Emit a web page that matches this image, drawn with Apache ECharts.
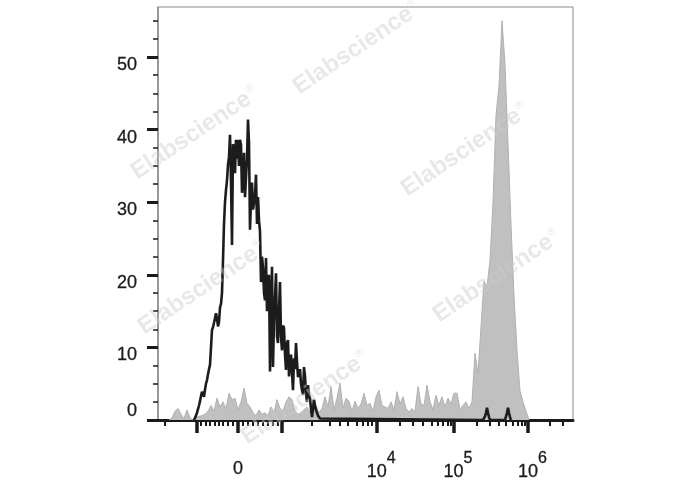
<!DOCTYPE html>
<html><head><meta charset="utf-8">
<script src="https://cdn.jsdelivr.net/npm/echarts@6/dist/echarts.min.js"></script>
<style>html,body{margin:0;padding:0;background:#fff}#c{width:688px;height:490px}</style>
</head><body><div id="c"></div>
<script>
// Display channel scale of the biexponential axis (0..415)
const blackStart = 36, blackBin = 1;
const blackCounts = [0,0,0.6,1.0,1.5,2.0,2.6,3.3,3.9,3.9,3.2,4.2,5.0,5.5,6.3,7.0,7.6,10.0,12.4,12.8,13.4,13.4,14.7,14.0,12.9,13.5,15.5,16.0,17.5,22.0,27.0,30.0,31.7,33.0,35.2,36.2,39.3,33.0,24.1,38.0,37.5,34.0,38.6,36.0,38.6,35.0,38.6,37.9,31.3,33.0,36.8,30.7,33.4,36.0,41.4,38.2,26.2,30.3,32.7,29.0,29.9,31.0,33.8,27.0,30.7,27.5,26.0,19.0,22.5,21.0,17.5,16.5,22.3,15.0,19.0,20.0,6.7,14.0,21.1,7.3,13.8,17.0,20.2,11.5,10.6,15.0,19.0,11.5,9.6,13.0,12.7,9.0,6.9,10.6,11.0,6.0,8.3,9.0,6.4,4.1,8.5,7.0,10.6,8.0,5.9,6.5,7.0,5.0,4.1,3.5,7.3,6.0,3.7,2.5,4.8,3.5,3.0,1.5,0.4,1.5,2.8,2.0,1.4,1.0,0.6,0.4,0.2,0.1,0];
const blackTailStart = 325;
const blackTailCounts = [0,0,0.5,1.0,1.7,1.0,0.4,0,0,0,0,0,0,0,0,0,0,0,0,0,0,0,0,0.5,1.0,1.7,1.0,0.4,0];
const grayStart = 11, grayBin = 3;
const grayCounts = [0,0.3,1.2,1.6,0.8,0.2,1.4,0.3,0,0.3,0.5,0.6,0.8,1.2,2.0,1.2,3.0,1.8,2.5,1.5,3.7,2.8,3.0,1.4,2.5,4.4,2.3,1.8,1.0,0.6,1.4,0.8,1.0,0.6,1.8,1.0,2.8,1.6,1.2,2.5,3.2,2.8,1.2,0.8,1.0,1.4,1.8,1.0,2.8,2.0,1.0,1.6,3.2,1.8,4.6,1.4,3.0,5.1,1.6,3.0,2.6,1.2,2.6,1.6,2.2,3.7,2.0,2.3,1.2,3.2,4.1,2.0,1.8,1.6,2.5,1.4,3.9,2.2,3.2,1.6,1.1,1.6,1.1,4.6,2.2,2.0,4.8,2.5,1.4,3.4,2.0,3.2,1.8,3.0,2.2,3.7,3.7,1.4,2.0,2.5,1.6,2.5,9.2,6.4,12.9,19.1,18.4,22,30,42,46,55,49,38,27,17,9.6,4,2.5,1.2,0];
const yMajor = [0,10,20,30,40,50];
const yMinor = [2.5,5,7.5,12.5,15,17.5,22.5,25,27.5,32.5,35,37.5,42.5,45,47.5,52.5,55];
const xMajorTicks = [38.7,80,123.7,218.7,295.5,370];
const xMinorTicks = [7,43,47.5,52,56.3,60.5,65,70,75,85,90,95,100,105,110,115,119.5,153.7,172,182,190,198.7,205,210,214,242,255,265,273.7,280,285,290,292.5,318.7,332,340.4,348,354.5,359.5,363.5,366.8,392,404.7];
const xLabelPos = [80,218.7,295.5,370];
const xLabelBase = ['0','10','10','10'];
const xLabelExp = ['','4','5','6'];
const watermarks = [[195,133],[357,48],[465,150],[202,288],[497,276],[305,398]];

const FF = 'Liberation Sans, Arial, sans-serif';
const blackData = blackCounts.map((v,i)=>[blackStart+i*blackBin, v])
  .concat(blackTailCounts.map((v,i)=>[blackTailStart+i*blackBin, v]));
const grayData = grayCounts.map((v,i)=>[grayStart+i*grayBin, v]);

const chart = echarts.init(document.getElementById('c'), null, {renderer:'canvas'});
chart.setOption({
  animation:false,
  backgroundColor:'#fff',
  grid:{left:158,right:115,top:7,bottom:70,show:true,borderColor:'#8a8a8a',borderWidth:1},
  xAxis:[{
    type:'value',min:0,max:415,position:'bottom',
    axisLine:{show:true,onZero:false,lineStyle:{color:'#1a1a1a',width:3}},
    axisTick:{show:true,customValues:xMajorTicks,length:13,lineStyle:{color:'#1a1a1a',width:3.5}},
    axisLabel:{customValues:xLabelPos,margin:31,color:'#222',
      formatter:function(v){
        const i = xLabelPos.findIndex(p=>Math.abs(p-v)<0.01);
        if(i<0) return '';
        if(!xLabelExp[i]) return '{c|'+xLabelBase[i]+'}';
        return '{p| }{b|'+xLabelBase[i]+'}{s|'+xLabelExp[i]+'}';
      },
      rich:{
        b:{fontFamily:FF,fontSize:18,color:'#1a1a1a',lineHeight:20,padding:[11,0,0,0],textBorderColor:'#1a1a1a',textBorderWidth:0.3},
        c:{fontFamily:FF,fontSize:18,color:'#1a1a1a',lineHeight:20,padding:[17,0,0,0],textBorderColor:'#1a1a1a',textBorderWidth:0.3},
        s:{fontFamily:FF,fontSize:16,color:'#1a1a1a',lineHeight:15,padding:[0,0,16,0],textBorderColor:'#1a1a1a',textBorderWidth:0.3},
        p:{fontFamily:FF,fontSize:10,width:9,lineHeight:31}
      }},
    splitLine:{show:false}
  },{
    type:'value',min:0,max:415,position:'bottom',
    axisLine:{show:false,onZero:false},
    axisTick:{show:true,customValues:xMinorTicks,length:6,lineStyle:{color:'#1a1a1a',width:2}},
    axisLabel:{show:false},splitLine:{show:false}
  }],
  yAxis:[{
    type:'value',min:0,max:56.9,position:'left',
    axisLine:{show:true,onZero:false,lineStyle:{color:'#8a8a8a',width:1.5}},
    axisTick:{show:true,customValues:yMajor,length:11,lineStyle:{color:'#1a1a1a',width:3}},
    axisLabel:{customValues:yMajor,margin:21,color:'#1a1a1a',
      formatter:function(v){ return v===0 ? '{z|0}' : '{n|'+v+'}'; },
      rich:{
        n:{fontFamily:FF,fontSize:18,color:'#1a1a1a',padding:[16,0,0,0],textBorderColor:'#1a1a1a',textBorderWidth:0.3},
        z:{fontFamily:FF,fontSize:18,color:'#1a1a1a',padding:[0,0,17,0],textBorderColor:'#1a1a1a',textBorderWidth:0.3}
      }},
    splitLine:{show:false}
  },{
    type:'value',min:0,max:56.9,position:'left',
    axisLine:{show:false,onZero:false},
    axisTick:{show:true,customValues:yMinor,length:5,lineStyle:{color:'#1a1a1a',width:1.5}},
    axisLabel:{show:false},splitLine:{show:false}
  }],
  series:[{
    type:'line',data:grayData,xAxisIndex:0,yAxisIndex:0,showSymbol:false,
    lineStyle:{color:'#b0b0b0',width:1},areaStyle:{color:'#c0c0c0',opacity:1},z:2
  },{
    type:'line',data:blackData,xAxisIndex:0,yAxisIndex:0,showSymbol:false,
    lineStyle:{color:'#1c1c1c',width:2.6},z:3
  }],
  graphic: watermarks.map(w=>({
    type:'text',x:w[0],y:w[1],rotation:0.59,z:100,silent:true,
    style:{text:'{a|Elabscience}{r|®}',align:'center',verticalAlign:'middle',
      rich:{a:{fontFamily:FF,fontSize:24,fontWeight:'bold',fill:'rgba(205,205,205,0.45)'},
            r:{fontFamily:FF,fontSize:11,fill:'rgba(205,205,205,0.45)',verticalAlign:'top',padding:[0,0,12,1]}}}
  }))
});
</script></body></html>
